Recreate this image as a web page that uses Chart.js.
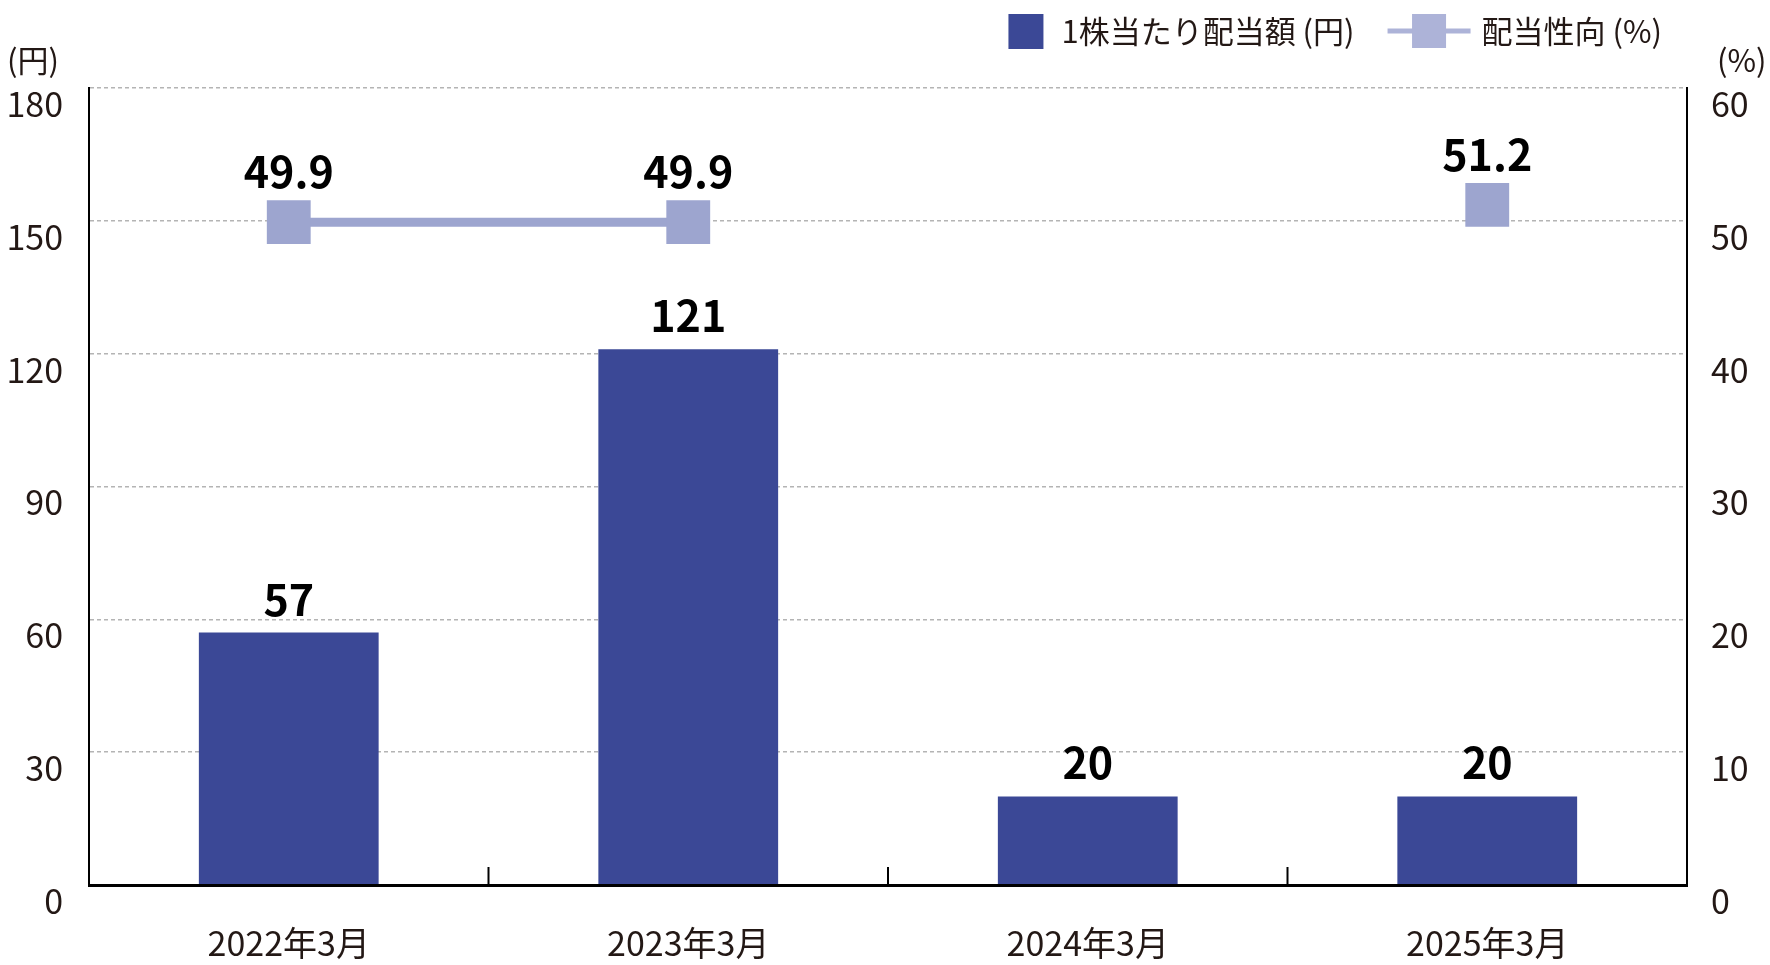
<!DOCTYPE html>
<html lang="ja">
<head>
<meta charset="utf-8">
<script src="https://cdn.jsdelivr.net/npm/chart.js@4.4.1/dist/chart.umd.min.js"></script>
<style>
  html, body { margin: 0; padding: 0; background: #fff; }
</style>
</head>
<body>
<canvas id="dividendChart" width="1770" height="965"></canvas>
<script>
const periods = ['2022年3月', '2023年3月', '2024年3月', '2025年3月'];
const dividendPerShare = [57, 121, 20, 20];
const payoutRatio = [49.9, 49.9, null, 51.2];
const yenTicks = [0, 30, 60, 90, 120, 150, 180];
const pctTicks = [0, 10, 20, 30, 40, 50, 60];
const seriesNames = ['1株当たり配当額 (円)', '配当性向 (%)'];

const barColor = '#3b4896';
const lineColor = '#9da5cf';
const textColor = '#231815';
const fontFamily = '"Noto Sans CJK JP", "Noto Sans", sans-serif';

Chart.defaults.font.family = fontFamily;
Chart.defaults.color = textColor;

// short ticks between categories, pointing up into the plot
const innerTicks = {
    id: 'innerTicks',
    afterDatasetsDraw(chart) {
        const x = chart.scales.x;
        const ctx = chart.ctx;
        ctx.save();
        ctx.strokeStyle = '#000';
        ctx.lineWidth = 2;
        for (let i = 0; i < periods.length - 1; i++) {
            const px = (x.getPixelForValue(i) + x.getPixelForValue(i + 1)) / 2;
            ctx.beginPath();
            ctx.moveTo(px, chart.chartArea.bottom);
            ctx.lineTo(px, chart.chartArea.bottom - 18);
            ctx.stroke();
        }
        ctx.restore();
    }
};

const valueLabels = {
    id: 'valueLabels',
    afterDatasetsDraw(chart) {
        const ctx = chart.ctx;
        ctx.save();
        ctx.font = 'bold 43px ' + fontFamily;
        ctx.fillStyle = '#000';
        ctx.textAlign = 'center';
        ctx.textBaseline = 'alphabetic';
        chart.getDatasetMeta(0).data.forEach((bar, i) => {
            ctx.fillText(String(dividendPerShare[i]), bar.x, bar.y - 17);
        });
        chart.getDatasetMeta(1).data.forEach((pt, i) => {
            if (payoutRatio[i] == null) return;
            ctx.fillText(payoutRatio[i].toFixed(1), pt.x, pt.y - 34);
        });
        ctx.restore();
    }
};

// legend + unit captions
const captions = {
    id: 'captions',
    afterDraw(chart) {
        const ctx = chart.ctx;
        const area = chart.chartArea;
        ctx.save();
        ctx.font = '31px ' + fontFamily;
        ctx.fillStyle = textColor;
        ctx.textBaseline = 'middle';

        ctx.textAlign = 'center';
        ctx.fillText('(円)', chart.scales.y.left + 33, 60);
        ctx.textAlign = 'left';
        ctx.fillText('(%)', chart.scales.y1.left + 30, 60);

        const midY = 31;
        let right = area.right - 25;
        const w2 = ctx.measureText(seriesNames[1]).width;
        const t2 = right - w2;
        ctx.fillText(seriesNames[1], t2, midY);
        const lineEnd = t2 - 11;
        const lineStart = lineEnd - 83;
        ctx.strokeStyle = '#adb3d8';
        ctx.lineWidth = 5;
        ctx.beginPath();
        ctx.moveTo(lineStart, midY);
        ctx.lineTo(lineEnd, midY);
        ctx.stroke();
        ctx.fillStyle = '#adb3d8';
        const mid = (lineStart + lineEnd) / 2;
        ctx.fillRect(mid - 17, midY - 17, 34, 34);

        const w1 = ctx.measureText(seriesNames[0]).width;
        const t1 = lineStart - 33 - w1;
        ctx.fillStyle = textColor;
        ctx.fillText(seriesNames[0], t1, midY);
        ctx.fillStyle = barColor;
        ctx.fillRect(t1 - 53, midY - 17, 35, 35);
        ctx.restore();
    }
};

new Chart(document.getElementById('dividendChart'), {
    data: {
        labels: periods,
        datasets: [
            {
                type: 'bar',
                label: seriesNames[0],
                data: dividendPerShare,
                backgroundColor: barColor,
                yAxisID: 'y',
                categoryPercentage: 1,
                barPercentage: 0.45,
                order: 2
            },
            {
                type: 'line',
                label: seriesNames[1],
                data: payoutRatio,
                borderColor: lineColor,
                backgroundColor: lineColor,
                borderWidth: 9,
                pointStyle: 'rect',
                pointRadius: 31,
                pointHoverRadius: 31,
                pointBorderWidth: 0,
                spanGaps: false,
                yAxisID: 'y1',
                order: 1
            }
        ]
    },
    options: {
        responsive: false,
        animation: false,
        devicePixelRatio: 1,
        layout: { padding: { top: 88, left: 0, right: 0, bottom: 0 } },
        plugins: {
            legend: { display: false },
            tooltip: { enabled: false }
        },
        scales: {
            x: {
                offset: true,
                grid: { display: false, drawTicks: false },
                border: { display: true, color: '#000', width: 3, z: 1 },
                ticks: {
                    padding: 38,
                    font: { size: 34 },
                    color: textColor
                },
                afterFit: s => { s.height = 80; }
            },
            y: {
                position: 'left',
                min: yenTicks[0],
                max: yenTicks[yenTicks.length - 1],
                afterBuildTicks: s => { s.ticks = yenTicks.map(v => ({ value: v })); },
                grid: {
                    color: '#b4b4b4',
                    lineWidth: 1.5,
                    drawTicks: false
                },
                border: { display: true, color: '#000', width: 2, dash: [4, 3] },
                ticks: {
                    padding: 26,
                    labelOffset: 16,
                    font: { size: 34 },
                    color: textColor
                },
                afterFit: s => { s.width = 89; }
            },
            y1: {
                position: 'right',
                min: pctTicks[0],
                max: pctTicks[pctTicks.length - 1],
                afterBuildTicks: s => { s.ticks = pctTicks.map(v => ({ value: v })); },
                grid: { drawOnChartArea: false, drawTicks: false },
                border: { display: true, color: '#000', width: 2 },
                ticks: {
                    padding: 24,
                    labelOffset: 16,
                    font: { size: 34 },
                    color: textColor
                },
                afterFit: s => { s.width = 83; }
            }
        }
    },
    plugins: [innerTicks, valueLabels, captions]
});
</script>
</body>
</html>
